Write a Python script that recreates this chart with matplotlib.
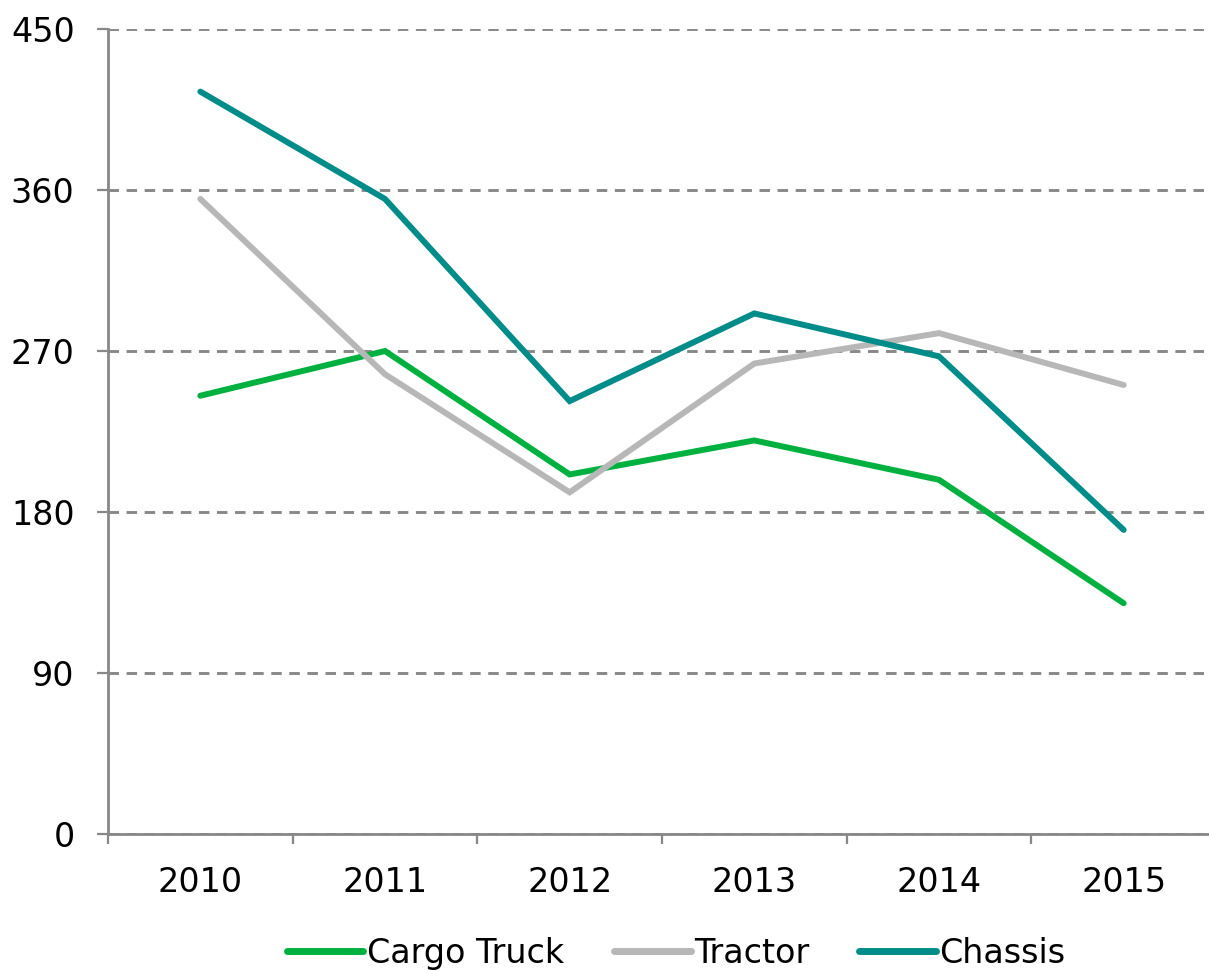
import numpy as np
import matplotlib
matplotlib.use("Agg")
import matplotlib.pyplot as plt

years = ["2010", "2011", "2012", "2013", "2014", "2015"]
cargo_truck = [245, 270, 201, 220, 198, 129]
tractor = [355, 257, 191, 263, 280, 251]
chassis = [415, 355, 242, 291, 267, 170]

y_ticks = [0, 90, 180, 270, 360, 450]

colors = {"Cargo Truck": "#00B140", "Tractor": "#B7B7B7", "Chassis": "#008C88"}
axis_grey = "#888888"

plt.rcParams['font.family'] = ['DejaVu Sans']

fig = plt.figure(figsize=(12.09, 9.71), dpi=100)
ax = fig.add_axes([108 / 1209, 1 - 834 / 971, (1216 - 108) / 1209, (834 - 29) / 971])

x = np.arange(len(years))
for name, vals in [("Cargo Truck", cargo_truck), ("Tractor", tractor), ("Chassis", chassis)]:
    ax.plot(x, vals, color=colors[name], linewidth=4.3, label=name,
            solid_capstyle="round", solid_joinstyle="miter", zorder=3)

ax.set_xlim(-0.5, len(years) - 0.5)
ax.set_ylim(0, 450)

# y axis
ax.set_yticks(y_ticks)
ax.set_yticklabels([str(v) for v in y_ticks])
ax.tick_params(axis="y", length=8, width=1.6, color=axis_grey, labelsize=24, pad=16)
ax.yaxis.grid(True, linestyle=(0, (3.6, 2.6)), color=axis_grey, linewidth=2.1)
ax.set_axisbelow(True)

# x axis: labels at categories, tick marks at boundaries
ax.set_xticks(x)
ax.set_xticklabels(years)
ax.set_xticks(np.arange(-0.5, len(years)), minor=True)
ax.tick_params(axis="x", which="major", length=0, labelsize=24, pad=23)
ax.tick_params(axis="x", which="minor", length=7, width=1.6, color=axis_grey)

for side in ["top", "right"]:
    ax.spines[side].set_visible(False)
for side in ["left", "bottom"]:
    ax.spines[side].set_color(axis_grey)
    ax.spines[side].set_linewidth(2.0)

leg = fig.legend(loc="center", bbox_to_anchor=(676 / 1209, 1 - 953 / 971), ncol=3,
                 frameon=False, fontsize=24, handlelength=2.3, handletextpad=0.1,
                 columnspacing=1.5)
for line in leg.get_lines():
    line.set_linewidth(5)

fig.savefig("out.png", dpi=100)
